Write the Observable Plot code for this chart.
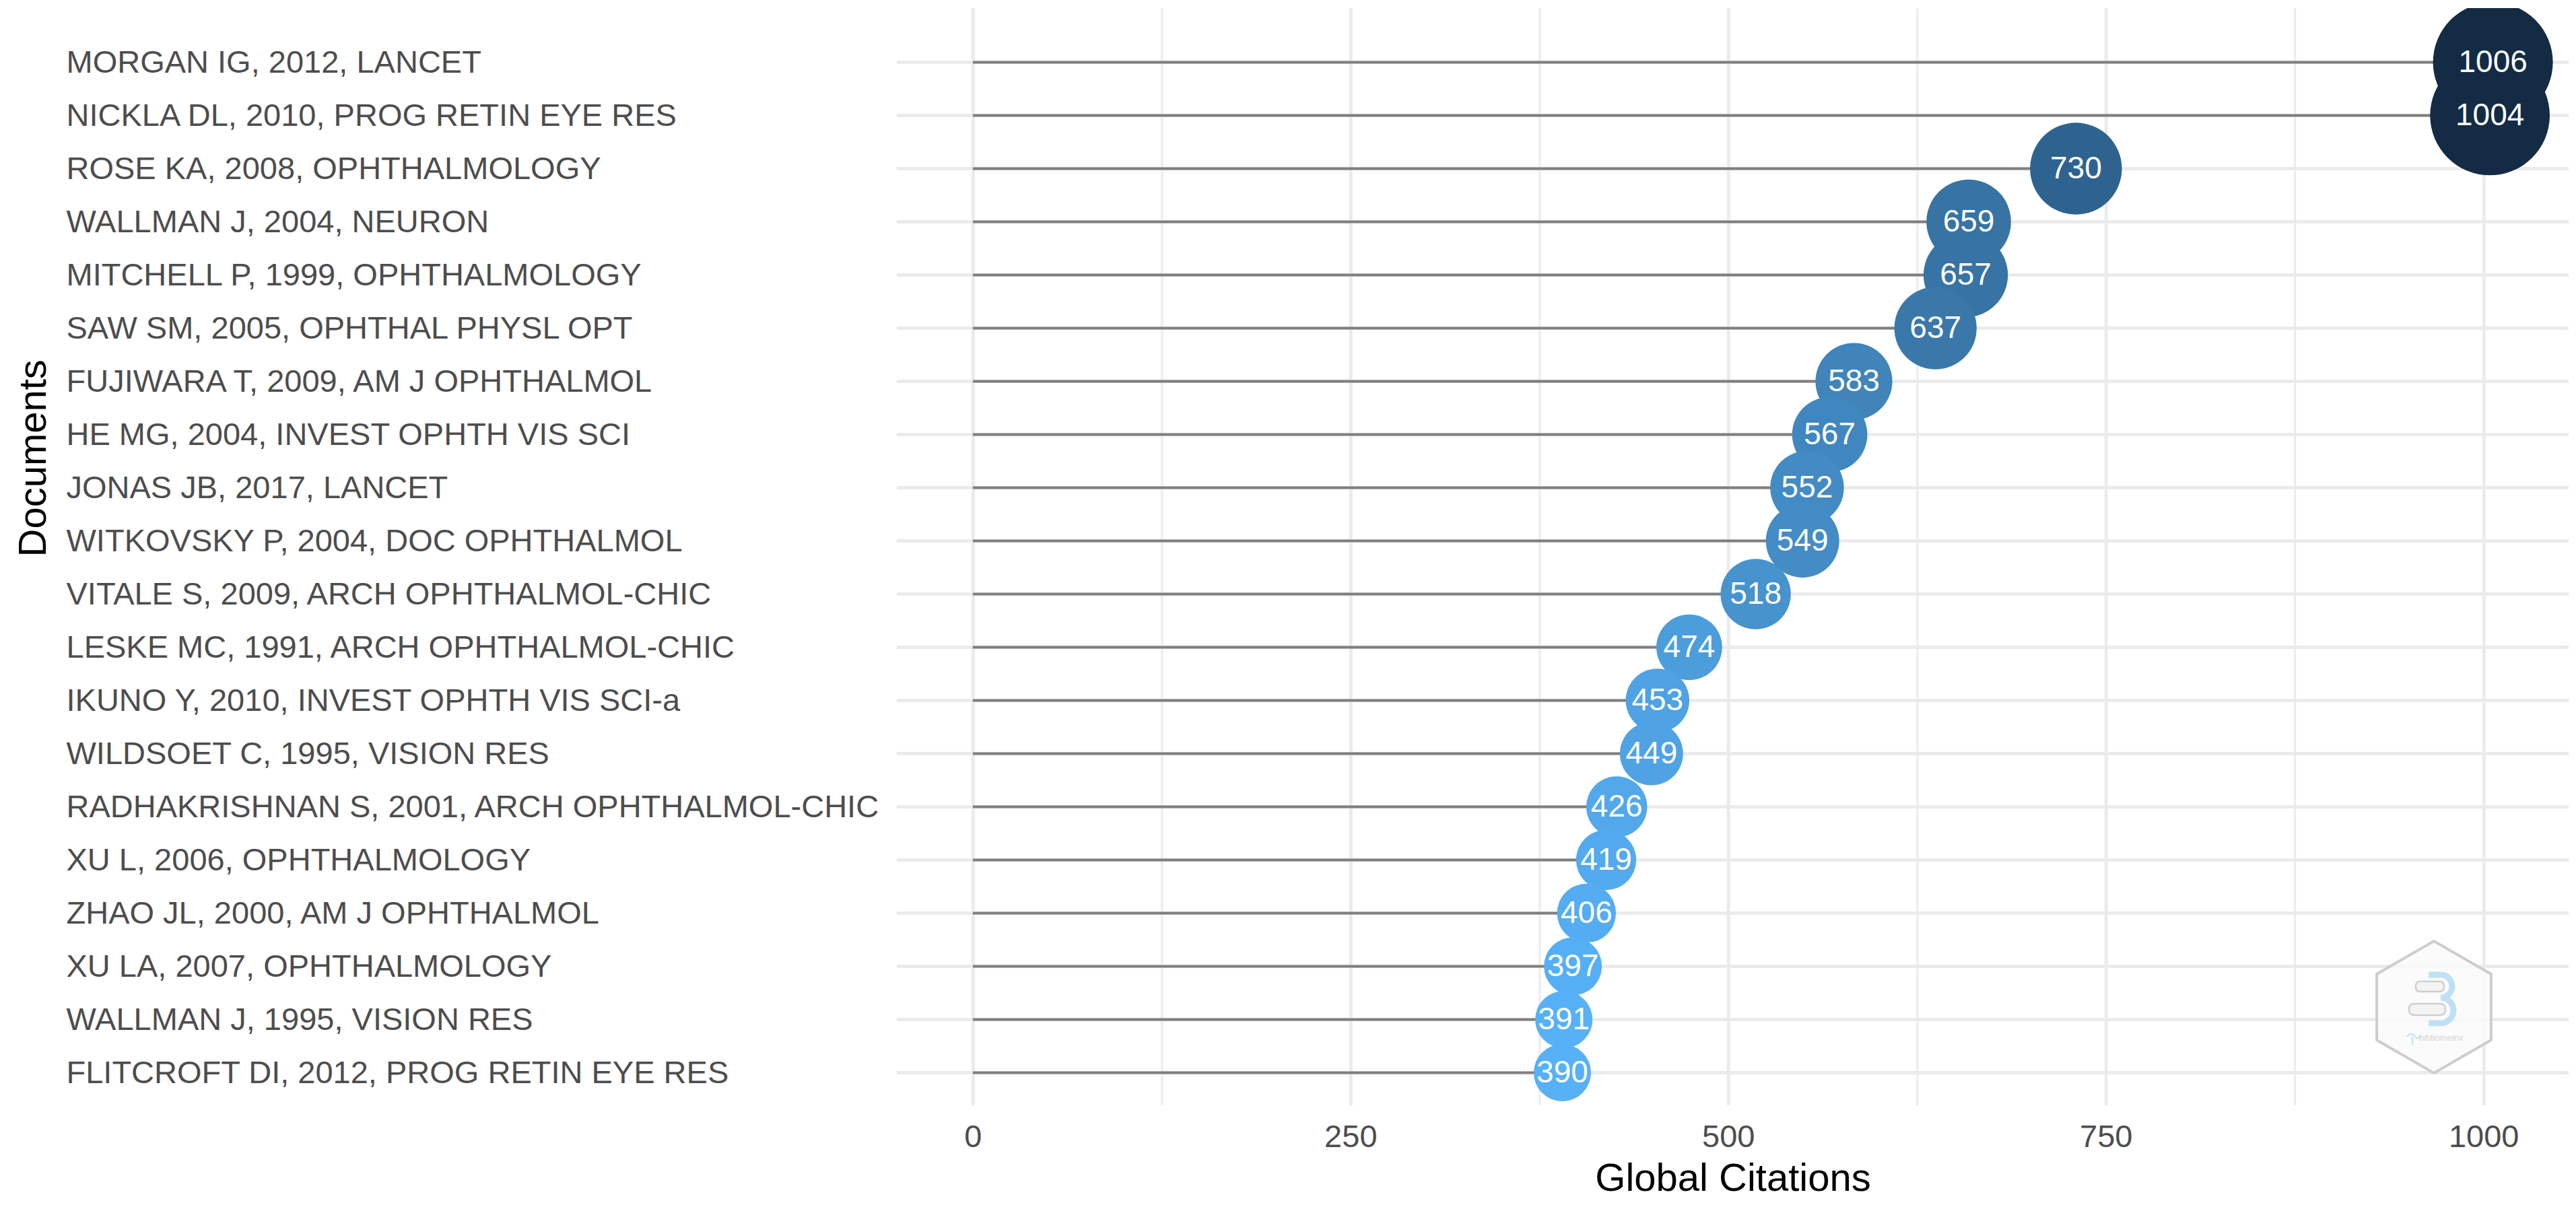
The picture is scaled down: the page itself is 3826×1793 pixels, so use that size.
<!DOCTYPE html>
<html>
<head>
<meta charset="utf-8">
<script src="https://cdn.jsdelivr.net/npm/d3@7"></script>
<script src="https://cdn.jsdelivr.net/npm/@observablehq/plot@0.6"></script>
<style>
  html, body { margin: 0; padding: 0; background: #ffffff; }
  #wrap { position: relative; width: 3826px; height: 1793px; }
  #logo { position: absolute; left: 0; top: 0; pointer-events: none; }
</style>
</head>
<body>
<div id="wrap"></div>
<script>
// ---- data ----
const documents = [
  "MORGAN IG, 2012, LANCET",
  "NICKLA DL, 2010, PROG RETIN EYE RES",
  "ROSE KA, 2008, OPHTHALMOLOGY",
  "WALLMAN J, 2004, NEURON",
  "MITCHELL P, 1999, OPHTHALMOLOGY",
  "SAW SM, 2005, OPHTHAL PHYSL OPT",
  "FUJIWARA T, 2009, AM J OPHTHALMOL",
  "HE MG, 2004, INVEST OPHTH VIS SCI",
  "JONAS JB, 2017, LANCET",
  "WITKOVSKY P, 2004, DOC OPHTHALMOL",
  "VITALE S, 2009, ARCH OPHTHALMOL-CHIC",
  "LESKE MC, 1991, ARCH OPHTHALMOL-CHIC",
  "IKUNO Y, 2010, INVEST OPHTH VIS SCI-a",
  "WILDSOET C, 1995, VISION RES",
  "RADHAKRISHNAN S, 2001, ARCH OPHTHALMOL-CHIC",
  "XU L, 2006, OPHTHALMOLOGY",
  "ZHAO JL, 2000, AM J OPHTHALMOL",
  "XU LA, 2007, OPHTHALMOLOGY",
  "WALLMAN J, 1995, VISION RES",
  "FLITCROFT DI, 2012, PROG RETIN EYE RES"
];
const citations = [1006, 1004, 730, 659, 657, 637, 583, 567, 552, 549, 518, 474, 453, 449, 426, 419, 406, 397, 391, 390];
const majorTicks = [0, 250, 500, 750, 1000];
const minorTicks = [125, 375, 625, 875];
const xTitle = "Global Citations";
const yTitle = "Documents";

const rows = documents.map((d, i) => ({doc: d, tc: citations[i]}));

// ---- chart ----
const W = 3826, H = 1793;
const mLeft = 1332, mRight = 11, mTop = 12, mBottom = 151;
const minTC = d3.min(citations), maxTC = d3.max(citations);

const chart = Plot.plot({
  width: W,
  height: H,
  marginLeft: mLeft,
  marginRight: mRight,
  marginTop: mTop,
  marginBottom: mBottom,
  style: {fontFamily: "'Liberation Sans', Arial, Helvetica, sans-serif", background: "#ffffff", overflow: "visible"},
  x: {domain: [-50.3, 1056.3], axis: null},
  y: {type: "point", domain: documents, range: [90.7, 1594.3], padding: 0, axis: null},
  r: {type: "linear", domain: [minTC, maxTC], range: [42.5, 89]},
  color: {type: "linear", domain: [minTC, maxTC], range: ["#56B1F7", "#132B43"], interpolate: "lab"},
  marks: [
    Plot.gridX(minorTicks, {stroke: "#EBEBEB", strokeOpacity: 1, strokeWidth: 3}),
    Plot.gridX(majorTicks, {stroke: "#EBEBEB", strokeOpacity: 1, strokeWidth: 5}),
    Plot.gridY(documents, {stroke: "#EBEBEB", strokeOpacity: 1, strokeWidth: 5}),
    Plot.ruleY(rows, {y: "doc", x1: 0, x2: "tc", stroke: "#7F7F7F", strokeWidth: 4}),
    Plot.dot(rows, {x: "tc", y: "doc", r: "tc", fill: "tc", stroke: null, clip: true}),
    Plot.text(rows, {x: "tc", y: "doc", text: d => String(d.tc), fill: "#ffffff", fontSize: 46}),
    Plot.axisX(majorTicks, {tickSize: 0, tickPadding: 28, fontSize: 47, color: "#4D4D4D", label: null, tickFormat: d => String(d)}),
    Plot.axisY(documents, {tickSize: 0, tickPadding: 0, textAnchor: "start", dx: 98 - mLeft, fontSize: 47, color: "#4D4D4D", label: null}),
    Plot.text([xTitle], {frameAnchor: "bottom", dy: 85, lineAnchor: "top", fontSize: 58, fill: "#000000"}),
    Plot.text([yTitle], {frameAnchor: "left", dx: 49 - mLeft, rotate: -90, lineAnchor: "middle", fontSize: 58, fill: "#000000"})
  ]
});
document.getElementById("wrap").appendChild(chart);

// ---- watermark logo (decoration) ----
const ns = "http://www.w3.org/2000/svg";
const logo = document.createElementNS(ns, "svg");
logo.setAttribute("id", "logo");
logo.setAttribute("width", W);
logo.setAttribute("height", H);
const cx = 3615, cy = 1496, R = 98;
const pts = d3.range(6).map(k => {
  const a = Math.PI / 2 + k * Math.PI / 3;
  return [cx + R * Math.cos(a), cy - R * Math.sin(a)];
});
logo.innerHTML = `
  <polygon points="${pts.map(p => p.join(",")).join(" ")}" fill="rgba(250,250,250,0.85)" stroke="#CDCDCD" stroke-width="4"/>
  <path d="M ${cx-8} ${cy-48} h 18 a 17 17 0 0 1 0 34 a 19 19 0 0 1 0 38 h -18" fill="none" stroke="#BFE1F6" stroke-width="9"/>
  <rect x="${cx-27}" y="${cy-38}" width="42" height="15" rx="6" fill="#F4F4F4" stroke="#CFCFCF" stroke-width="2.5"/>
  <rect x="${cx-37}" y="${cy-5}" width="54" height="17" rx="7" fill="#F4F4F4" stroke="#CFCFCF" stroke-width="2.5"/>
  <path d="M ${cx-40} ${cy+44} q 6 -8 12 0 q 4 6 8 -2 M ${cx-32} ${cy+44} v 12" fill="none" stroke="#BFE1F6" stroke-width="2"/>
  <text x="${cx-22}" y="${cy+50}" font-family="Liberation Sans, Arial, sans-serif" font-size="13" fill="#D5D5D5">bibliometrix</text>
`;
document.getElementById("wrap").appendChild(logo);
</script>
</body>
</html>
